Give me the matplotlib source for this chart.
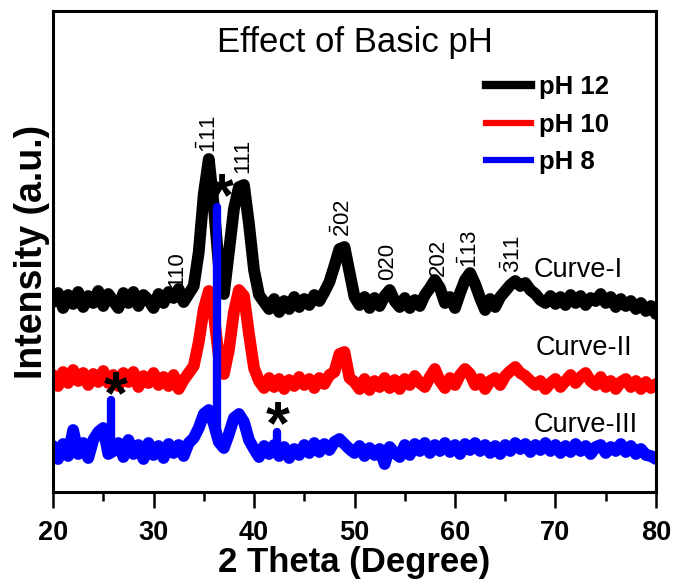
import numpy as np
import matplotlib.pyplot as plt
from matplotlib import font_manager
from matplotlib.lines import Line2D

# fuentes: se busca una sans estrecha para los ejes
nombres = {f.name for f in font_manager.fontManager.ttflist}
NARROW = None
for nombre in ['Liberation Sans Narrow', 'Arial Narrow', 'DejaVu Sans Condensed']:
    if nombre in nombres:
        NARROW = nombre
        break

plt.rcParams['font.family'] = ['Liberation Sans', 'DejaVu Sans']
plt.rcParams['mathtext.fontset'] = 'custom'
plt.rcParams['mathtext.rm'] = 'Liberation Sans'
plt.rcParams['mathtext.it'] = 'Liberation Sans:italic'
plt.rcParams['mathtext.bf'] = 'Liberation Sans:bold'

# ============================================================================
# DATOS (intensidad en u.a.)
# ============================================================================
two_theta = np.arange(20, 80.01, 0.5)

ph12 = [190, 199, 184, 197, 188, 200, 185, 196, 189, 201,
        186, 198, 191, 184, 199, 189, 200, 186, 197, 192,
        184, 198, 189, 200, 194, 203, 190, 198, 206, 240,
        298, 333, 286, 226, 198, 240, 283, 305, 307, 268,
        222, 197, 190, 183, 193, 180, 191, 183, 195, 185,
        193, 187, 197, 191, 200, 210, 226, 243, 245, 220,
        195, 187, 195, 184, 194, 186, 196, 202, 191, 185,
        194, 184, 192, 186, 197, 204, 212, 204, 189, 195,
        184, 199, 212, 219, 208, 194, 182, 193, 185, 195,
        201, 207, 211, 206, 209, 202, 198, 192, 189, 196,
        188, 195, 187, 197, 189, 196, 187, 194, 191, 198,
        189, 195, 185, 193, 186, 191, 183, 189, 181, 186,
        178]

ph10 = [117, 106, 120, 109, 122, 111, 119, 107, 118, 110,
        121, 109, 117, 106, 119, 110, 120, 105, 116, 109,
        119, 107, 115, 106, 117, 103, 112, 119, 126, 150,
        183, 201, 178, 135, 118, 142, 180, 202, 196, 158,
        124, 111, 104, 114, 105, 113, 103, 112, 106, 115,
        107, 113, 104, 114, 108, 117, 120, 138, 140, 114,
        110, 103, 113, 102, 111, 105, 114, 104, 112, 103,
        113, 107, 116, 109, 105, 115, 123, 111, 104, 114,
        107, 117, 123, 118, 107, 113, 103, 111, 114, 107,
        116, 121, 125, 119, 116, 111, 107, 111, 103, 109,
        113, 105, 111, 117, 109, 115, 119, 111, 107, 115,
        105, 111, 103, 110, 113, 105, 111, 103, 110, 104,
        108]

ph8 = [46, 33, 48, 36, 62, 38, 49, 34, 52, 60,
       64, 38, 41, 49, 35, 52, 38, 47, 33, 49,
       37, 46, 34, 48, 39, 47, 36, 49, 54, 64,
       78, 82, 68, 50, 44, 58, 74, 78, 70, 52,
       43, 35, 46, 38, 47, 36, 45, 34, 43, 37,
       47, 39, 49, 40, 48, 42, 50, 53, 48, 43,
       39, 46, 36, 44, 37, 43, 28, 45, 39, 35,
       47, 37, 48, 41, 49, 39, 47, 41, 49, 40,
       47, 38, 48, 42, 49, 41, 47, 39, 46, 38,
       47, 41, 49, 43, 48, 40, 47, 42, 49, 41,
       47, 39, 46, 40, 48, 41, 46, 38, 45, 47,
       39, 45, 41, 48, 40, 46, 38, 43, 37, 36,
       33]

# picos de impureza (*) en la curva de pH 8
pico_pos = [25.8, 36.35, 42.3]
pico_base = [40, 60, 45]
pico_top = [92, 285, 60]

# índices de Miller
miller_txt = ['110', r'$\bar{1}11$', '111', r'$\bar{2}02$', '020', '202',
              r'$\bar{1}13$', r'$\bar{3}11$']
miller_x = [32.3, 35.6, 38.9, 48.9, 53.3, 58.3, 61.5, 65.8]
miller_y = [205, 339, 319, 255, 212, 216, 224, 219]

ast_x = [36.8, 26.2, 42.4]
ast_y = [305, 107, 77]

curvas_txt = ['Curve-I', 'Curve-II', 'Curve-III']
curvas_x = [67.8, 68.0, 67.8]
curvas_y = [222, 144, 67]

series = ['pH 12', 'pH 10', 'pH 8']
colores = ['black', 'red', 'blue']

# ============================================================================
# GRÁFICA
# ============================================================================
fig = plt.figure(figsize=(6.73, 5.86), dpi=100)
ax = fig.add_axes([0.0788, 0.1604, 0.8959, 0.8208])

LW = 8.5
for datos, c in zip([ph12, ph10, ph8], colores):
    ax.plot(two_theta, datos, color=c, lw=LW, solid_joinstyle='round',
            solid_capstyle='round')
for p, b, t in zip(pico_pos, pico_base, pico_top):
    ax.plot([p, p], [b, t], color='blue', lw=6, solid_capstyle='round')

for t, x, y in zip(miller_txt, miller_x, miller_y):
    ax.text(x, y, t, rotation=90, ha='center', va='bottom', fontsize=16)

# el glifo * queda alto en su caja: se baja unos píxeles
for x, y in zip(ast_x, ast_y):
    ax.annotate('*', (x, y), xytext=(0, -13), textcoords='offset pixels',
                ha='center', va='center', fontsize=44, fontweight='bold')

for t, x, y in zip(curvas_txt, curvas_x, curvas_y):
    ax.text(x, y, t, ha='left', va='center', fontsize=19.5)

ax.text(0.5008, 0.935, 'Effect of Basic pH', transform=ax.transAxes,
        ha='center', va='center', fontsize=25)

handles = [Line2D([], [], color=c, lw=w) for c, w in zip(colores, [6, 4.5, 4.5])]
ax.legend(handles, series, loc='upper left', bbox_to_anchor=(0.718, 0.866),
          frameon=False, prop={'weight': 'bold', 'size': 18.5},
          handlelength=1.75, handletextpad=0.3, labelspacing=0.52,
          borderaxespad=0, borderpad=0)

ax.set_xlim(20, 80)
ax.set_ylim(0, 481)
ax.set_xticks(range(20, 81, 10))
ax.set_xticks(range(25, 80, 10), minor=True)
ax.set_yticks([])
for s in ax.spines.values():
    s.set_linewidth(2.2)
ax.tick_params(axis='x', which='major', direction='out', length=11.5, width=1.8, pad=9)
ax.tick_params(axis='x', which='minor', direction='out', length=6.5, width=1.8)

if NARROW:
    fam_ejes, tam_ticks, tam_xlab = NARROW, 22, 28
else:
    fam_ejes, tam_ticks, tam_xlab = 'Liberation Sans', 19.5, 25
for lab in ax.get_xticklabels():
    lab.set_family(fam_ejes)
    lab.set_fontweight('bold')
    lab.set_fontsize(tam_ticks)

ax.set_xlabel('2 Theta (Degree)', family=fam_ejes, fontweight='bold',
              fontsize=tam_xlab, labelpad=0)
ax.set_ylabel('Intensity (a.u.)', fontweight='bold', fontsize=27, labelpad=2)

fig.savefig('out.png', dpi=100)
